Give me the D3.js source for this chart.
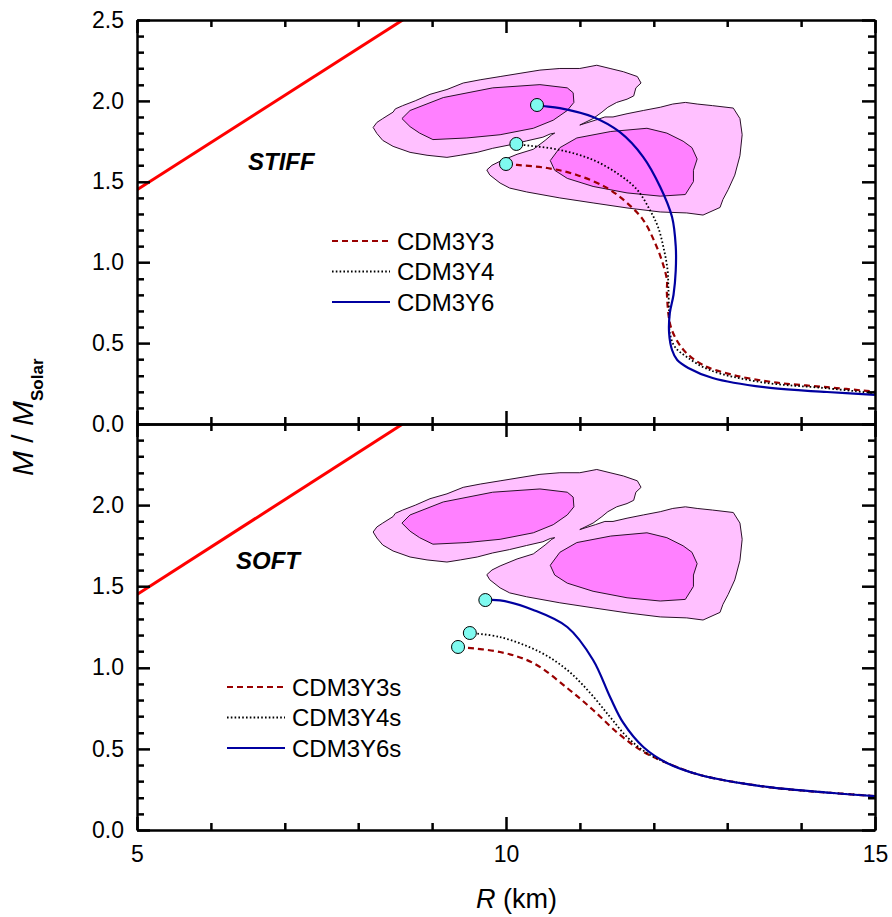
<!DOCTYPE html>
<html><head><meta charset="utf-8">
<script src="https://cdn.jsdelivr.net/npm/d3@7"></script>
<style>
body{margin:0;background:#fff}
text{font-family:"Liberation Sans",Arial,sans-serif;fill:#000}
</style>
</head><body>
<svg id="c" width="892" height="917"></svg>
<script>
// ---------- data ----------
const xDomain = [5, 15];
const yDomain = [0, 2.5];
const xMajor = [5, 10, 15];
const xMinor = [6, 7, 8, 9, 11, 12, 13, 14];
const yMajorTop = [0, 0.5, 1.0, 1.5, 2.0, 2.5];
const yMajorBot = [0, 0.5, 1.0, 1.5, 2.0];
const yMinor = [0.1,0.2,0.3,0.4,0.6,0.7,0.8,0.9,1.1,1.2,1.3,1.4,1.6,1.7,1.8,1.9,2.1,2.2,2.3,2.4];

// causality-like limit line
const limitLine = [[5, 1.45], [8.6, 2.5]];

// observational contours (same in both panels)
const outerContour = [
  [8.20,1.835],[8.25,1.866],[8.33,1.89],[8.47,1.93],[8.50,1.95],[8.60,1.97],[8.77,2.00],[8.97,2.04],
  [9.20,2.07],[9.42,2.11],[9.65,2.13],[9.92,2.15],[10.19,2.17],[10.46,2.19],[10.73,2.20],[11.00,2.20],
  [11.23,2.22],[11.41,2.20],[11.59,2.18],[11.78,2.15],[11.83,2.11],[11.76,2.08],[11.73,2.03],[11.64,2.01],
  [11.50,1.99],[11.38,1.96],[11.30,1.93],[11.18,1.89],[11.00,1.85],[11.21,1.88],[11.34,1.90],
  [11.45,1.90],[11.64,1.92],[11.86,1.94],[12.09,1.96],[12.26,1.98],[12.43,1.99],[12.59,1.98],[12.80,1.97],
  [13.08,1.955],[13.17,1.89],[13.20,1.79],[13.17,1.66],[13.10,1.54],[13.01,1.45],[12.94,1.39],[12.90,1.34],
  [12.67,1.293],[12.45,1.306],[12.09,1.312],[11.64,1.337],[11.18,1.368],[10.73,1.399],[10.28,1.436],
  [10.05,1.46],[9.92,1.491],[9.78,1.541],[9.74,1.572],[9.81,1.601],[9.92,1.626],[10.15,1.669],[10.37,1.70],
  [10.53,1.755],[10.62,1.79],[10.66,1.80],[10.60,1.795],[10.50,1.775],[10.28,1.752],[10.05,1.727],[9.82,1.706],
  [9.61,1.681],[9.38,1.663],[9.20,1.65],[8.93,1.663],[8.70,1.681],[8.47,1.718],[8.33,1.755],[8.25,1.798]
];
const innerLeft = [
  [8.59,1.89],[8.70,1.94],[9.15,2.02],[9.82,2.08],[10.46,2.10],[10.83,2.08],[10.91,2.05],[10.92,1.99],
  [10.83,1.94],[10.64,1.88],[10.37,1.83],[9.92,1.79],[9.47,1.77],[9.01,1.76],[8.83,1.80],[8.70,1.84]
];
const innerRight = [
  [10.60,1.63],[10.73,1.71],[10.96,1.77],[11.42,1.81],[11.91,1.83],[12.18,1.80],[12.40,1.75],[12.52,1.71],
  [12.59,1.64],[12.54,1.57],[12.54,1.50],[12.43,1.42],[12.09,1.41],[11.64,1.43],[11.18,1.47],[10.83,1.52],[10.66,1.57]
];

// STIFF EOS (R km, M/Msun)
const cdm3y3 = [[10.0,1.609],[10.15,1.603],[10.56,1.584],[10.96,1.541],[11.37,1.46],[11.64,1.368],[11.86,1.262],
  [12.02,1.12],[12.12,1.0],[12.18,0.891],[12.18,0.81],[12.22,0.625],[12.29,0.538],[12.43,0.446],[12.67,0.365],
  [13.08,0.303],[13.67,0.256],[14.35,0.228],[15.0,0.2]];
const cdm3y4 = [[10.14,1.733],[10.23,1.727],[10.73,1.696],[11.18,1.634],[11.54,1.541],[11.78,1.448],[11.95,1.324],
  [12.06,1.219],[12.14,1.08],[12.19,0.95],[12.20,0.85],[12.21,0.687],[12.22,0.563],[12.29,0.476],[12.45,0.415],
  [12.76,0.334],[13.44,0.26],[14.35,0.221],[15.0,0.19]];
const cdm3y6 = [[10.42,1.974],[10.50,1.968],[10.73,1.955],[11.18,1.90],[11.54,1.807],[11.86,1.652],[12.09,1.467],
  [12.25,1.281],[12.30,1.10],[12.30,0.95],[12.27,0.80],[12.22,0.687],[12.21,0.563],[12.25,0.458],[12.32,0.396],
  [12.47,0.347],[12.80,0.285],[13.58,0.223],[14.35,0.198],[15.0,0.18]];

// SOFT EOS
const cdm3y3s = [[9.35,1.127],[9.92,1.096],[10.37,1.028],[10.83,0.874],[11.18,0.739],[11.50,0.603],[11.82,0.493],
  [12.18,0.413],[12.63,0.339],[13.54,0.265],[14.43,0.228],[15.0,0.209]];
const cdm3y4s = [[9.51,1.213],[9.92,1.188],[10.46,1.096],[10.83,0.985],[11.14,0.844],[11.41,0.696],[11.64,0.573],
  [11.91,0.474],[12.18,0.413],[12.63,0.339],[13.54,0.265],[14.43,0.228],[15.0,0.209]];
const cdm3y6s = [[9.72,1.416],[9.92,1.414],[10.37,1.355],[10.83,1.25],[11.18,1.047],[11.41,0.819],[11.59,0.659],
  [11.86,0.511],[12.18,0.413],[12.63,0.339],[13.54,0.265],[14.43,0.228],[15.0,0.209]];

const stiffNames = ["CDM3Y3", "CDM3Y4", "CDM3Y6"];
const softNames = ["CDM3Y3s", "CDM3Y4s", "CDM3Y6s"];
const panelLabels = ["STIFF", "SOFT"];

// ---------- layout ----------
const L = 137, R = 875, T = 20, MID = 424, B = 830;
const svg = d3.select("#c");
const x = d3.scaleLinear().domain(xDomain).range([L, R]);
const yTop = d3.scaleLinear().domain(yDomain).range([MID, T]);
const yBot = d3.scaleLinear().domain(yDomain).range([B, MID]);

const styles = [
  {stroke: "#990000", dash: "6,4", width: 2.2},
  {stroke: "#000", dash: "1.6,2.2", width: 1.8},
  {stroke: "#0000a0", dash: null, width: 2.2}
];

function panel(y, top, series, names, label, legendPos, labelPos) {
  const clipId = "clip" + (top ? "t" : "b");
  svg.append("defs").append("clipPath").attr("id", clipId).append("rect")
    .attr("x", L).attr("y", y.range()[1]).attr("width", R - L).attr("height", y.range()[0] - y.range()[1]);
  const g = svg.append("g").attr("clip-path", `url(#${clipId})`);
  const poly = d3.line().x(d => x(d[0])).y(d => y(d[1])).curve(d3.curveLinearClosed);
  g.append("path").attr("d", poly(outerContour)).attr("fill", "#ffc0ff").attr("stroke", "#2a1028").attr("stroke-width", 1);
  g.append("path").attr("d", poly(innerLeft)).attr("fill", "#ff80ff").attr("stroke", "#2a1028").attr("stroke-width", 1);
  g.append("path").attr("d", poly(innerRight)).attr("fill", "#ff80ff").attr("stroke", "#2a1028").attr("stroke-width", 1);

  const straight = d3.line().x(d => x(d[0])).y(d => y(d[1]));
  g.append("path").attr("d", straight(limitLine)).attr("fill", "none").attr("stroke", "#ff0000").attr("stroke-width", 3);

  const curve = d3.line().x(d => x(d[0])).y(d => y(d[1])).curve(d3.curveCatmullRom.alpha(0.5));
  series.forEach((s, i) => {
    g.append("path").attr("d", curve(s)).attr("fill", "none")
      .attr("stroke", styles[i].stroke).attr("stroke-width", styles[i].width)
      .attr("stroke-dasharray", styles[i].dash);
  });
  series.forEach(s => {
    g.append("circle").attr("cx", x(s[0][0])).attr("cy", y(s[0][1])).attr("r", 6.5)
      .attr("fill", "#7ffaf0").attr("stroke", "#000").attr("stroke-width", 1);
  });

  const lg = svg.append("g");
  names.forEach((n, i) => {
    const yy = legendPos[1] + i * 30.5;
    lg.append("path").attr("d", `M${legendPos[0]},${yy}H${legendPos[0] + 58}`).attr("fill", "none")
      .attr("stroke", styles[i].stroke).attr("stroke-width", styles[i].width).attr("stroke-dasharray", styles[i].dash);
    lg.append("text").attr("x", legendPos[0] + 65).attr("y", yy).attr("dy", "0.36em")
      .style("font-size", "24px").text(n);
  });
  svg.append("text").attr("x", labelPos[0]).attr("y", labelPos[1])
    .style("font-size", "24px").style("font-weight", "bold").style("font-style", "italic").text(label);
}

panel(yTop, true, [cdm3y3, cdm3y4, cdm3y6], stiffNames, panelLabels[0], [332, 241], [248, 170]);
panel(yBot, false, [cdm3y3s, cdm3y4s, cdm3y6s], softNames, panelLabels[1], [227, 687], [236, 569]);

// ---------- tick marks as paths built from the scales ----------
function hTickPath(y, values, len) {
  return values.map(v => {
    const yy = Math.round(y(v)) + 0.5;
    return `M${L},${yy}h${len}M${R},${yy}h${-len}`;
  }).join("");
}
function vTickPath(values, y0, dir, len) {
  return values.map(v => {
    const xx = Math.round(x(v)) + 0.5;
    return `M${xx},${y0}v${dir * len}`;
  }).join("");
}
const tickD =
  hTickPath(yTop, yMinor, 7) + hTickPath(yTop, yMajorTop, 13) +
  hTickPath(yBot, yMinor, 7) + hTickPath(yBot, yMajorTop, 13) +
  vTickPath(xMinor, T, 1, 7) + vTickPath(xMajor, T, 1, 13) +
  vTickPath(xMinor, MID, -1, 7) + vTickPath(xMinor, MID, 1, 7) +
  vTickPath(xMajor, MID, -1, 13) + vTickPath(xMajor, MID, 1, 13) +
  vTickPath(xMinor, B, -1, 7) + vTickPath(xMajor, B, -1, 13);
svg.append("path").attr("d", tickD).attr("fill", "none").attr("stroke", "#000").attr("stroke-width", 2);

// ---------- axes (domain + labels via d3.axis) ----------
const axisLayer = svg.append("g");
function addAxis(gen, tx, ty, labels) {
  const a = axisLayer.append("g").attr("transform", `translate(${tx},${ty})`);
  a.call(gen);
  a.attr("font-size", null).attr("font-family", null);
  a.select("path.domain").attr("stroke", "#000").attr("stroke-width", 2);
  a.selectAll(".tick line").attr("stroke", "#000").attr("stroke-width", 2);
  if (labels) a.selectAll(".tick text").style("font-size", "23px").attr("fill", "#000");
  return a;
}
const blank = () => "";
[[yTop, yMajorTop], [yBot, yMajorBot]].forEach(([y, maj]) => {
  addAxis(d3.axisLeft(y).tickValues(yMinor).tickSize(-7).tickSizeOuter(0).tickFormat(blank), L, 0, false);
  addAxis(d3.axisLeft(y).tickValues(maj).tickSize(-13).tickSizeOuter(0).tickPadding(13).tickFormat(d3.format(".1f")), L, 0, true);
  addAxis(d3.axisRight(y).tickValues(yMinor).tickSize(-7).tickSizeOuter(0).tickFormat(blank), R, 0, false);
  addAxis(d3.axisRight(y).tickValues(yMajorTop).tickSize(-13).tickSizeOuter(0).tickFormat(blank), R, 0, false);
});
addAxis(d3.axisTop(x).tickValues(xMinor).tickSize(-7).tickSizeOuter(0).tickFormat(blank), 0, T, false);
addAxis(d3.axisTop(x).tickValues(xMajor).tickSize(-13).tickSizeOuter(0).tickFormat(blank), 0, T, false);
addAxis(d3.axisBottom(x).tickValues(xMinor).tickSize(-7).tickSizeOuter(0).tickFormat(blank), 0, MID, false);
addAxis(d3.axisTop(x).tickValues(xMinor).tickSize(-7).tickSizeOuter(0).tickFormat(blank), 0, MID, false);
addAxis(d3.axisBottom(x).tickValues(xMajor).tickSize(-13).tickSizeOuter(0).tickFormat(blank), 0, MID, false);
addAxis(d3.axisTop(x).tickValues(xMajor).tickSize(-13).tickSizeOuter(0).tickFormat(blank), 0, MID, false);
addAxis(d3.axisBottom(x).tickValues(xMinor).tickSize(-7).tickSizeOuter(0).tickFormat(blank), 0, B, false);
addAxis(d3.axisBottom(x).tickValues(xMajor).tickSize(-13).tickSizeOuter(0).tickPadding(16).tickFormat(d3.format("d")), 0, B, true);

// ---------- axis titles ----------
const xt = svg.append("text").attr("x", 476).attr("y", 908).style("font-size", "27px");
xt.append("tspan").style("font-style", "italic").text("R");
xt.append("tspan").text(" (km)");

const yt = svg.append("text").attr("transform", "translate(33,476) rotate(-90)").style("font-size", "30px");
yt.append("tspan").style("font-style", "italic").text("M");
yt.append("tspan").text(" / ");
yt.append("tspan").style("font-style", "italic").text("M");
yt.append("tspan").attr("dy", 10).style("font-size", "17px").style("font-weight", "bold").text("Solar");
</script>
</body></html>
